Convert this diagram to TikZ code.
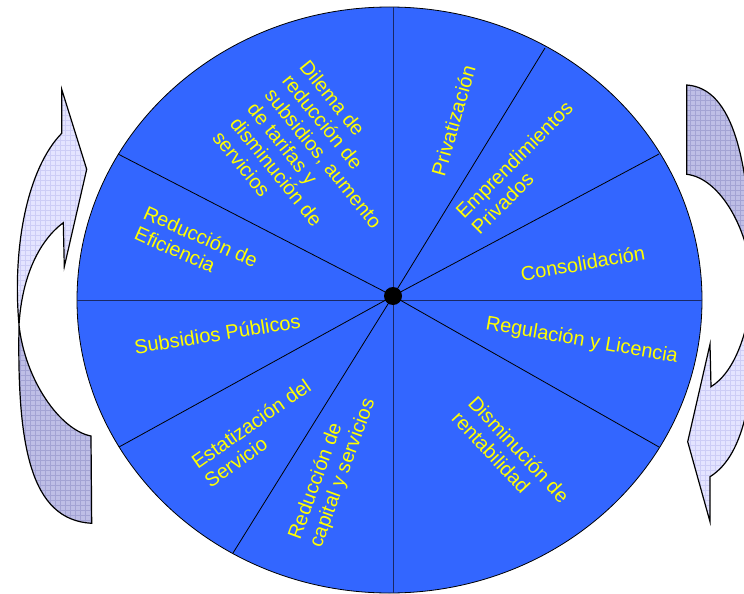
\documentclass[tikz,border=0pt]{standalone}
\usepackage{fontspec}
\setmainfont{Liberation Sans}
\usetikzlibrary{shapes.geometric}
\definecolor{wheelblue}{RGB}{51,102,255}
\definecolor{labelyellow}{RGB}{255,255,0}
\definecolor{axisblue}{RGB}{25,40,100}
\definecolor{lightlav}{RGB}{228,228,255}
\definecolor{lightgrid}{RGB}{205,205,246}
\definecolor{darklav}{RGB}{190,190,230}
\definecolor{darkgrid}{RGB}{163,163,212}
\begin{document}
\begin{tikzpicture}[x=1pt,y=-1pt,
  seglabel/.style={text=labelyellow, font=\fontsize{20}{22.4}\selectfont, inner sep=0pt},
  multilabel/.style={seglabel, align=left, anchor=base west},
  spoke/.style={draw=black, line width=0.8pt},
  axisline/.style={draw=axisblue, line width=1pt},
  arrowline/.style={draw=black, line width=1.2pt, line join=miter},
  gridfill/.style 2 args={fill=#1, path picture={
      \foreach \g in {0,5,...,780}{
        \draw[#2, line width=0.4pt] (\g,0) -- (\g,600);
        \draw[#2, line width=0.4pt] (0,\g) -- (780,\g);}}},
]
\useasboundingbox (0,0) rectangle (744,594);
\clip (0,0) rectangle (744,594);

% wheel
\node[ellipse, draw=black, line width=0.8pt, fill=wheelblue, inner sep=0pt,
      minimum width=625pt, minimum height=586pt] (wheel) at (389.5,300) {};

\coordinate (hubc) at (393,296);
\coordinate (top) at (393,7);
\coordinate (bottom) at (393,593);
\coordinate (left) at (77,300);
\coordinate (right) at (702,300);
\coordinate (r1) at (545,48);
\coordinate (r2) at (659,154);
\coordinate (r3) at (659,447);
\coordinate (r4) at (233,553);
\coordinate (r5) at (119,447);
\coordinate (r6) at (118,154);

\draw[axisline] (top) -- (bottom);
\draw[axisline] (left) -- (right);
\foreach \r in {r1,r2,r3,r4,r5,r6}{\draw[spoke] (hubc) -- (\r);}

\node[circle, fill=black, minimum size=18pt, inner sep=0pt] (hub) at (hubc) {};

% labels (multi-line nodes are anchored at the baseline of their last line)
\node[seglabel, rotate=74] (privat) at (453.3,120.7) {Privatización};
\node[multilabel, rotate=45] (empr) at (479.8,235.8) {Emprendimientos\\Privados};
\node[seglabel, rotate=10] (consol) at (582.7,263.3) {Consolidación};
\node[seglabel, rotate=-10] (regul) at (581.8,340.7) {Regulación y Licencia};
\node[multilabel, rotate=-47] (dismin) at (450.6,419.3) {Disminución de\\rentabilidad};
\node[multilabel, rotate=70] (redcap) at (321.1,548.7) {Reducción de\\capital y servicios};
\node[multilabel, rotate=35] (estat) at (210.5,488.3) {Estatización del\\Servicio};
\node[seglabel, rotate=9] (subs) at (217.3,333.7) {Subsidios Públicos};
\node[multilabel, rotate=-24] (redef) at (132.9,238.5) {Reducción de\\Eficiencia};
\node[multilabel, rotate=-51] (dilema) at (211.5,138) {Dilema de\\reducción de\\subsidios, aumento\\de tarifas y\\disminución de\\servicios};

% left curved arrow
\path[arrowline, gridfill={darklav}{darkgrid}]
  (19,325) .. controls (17,445) and (30,520) .. (91.7,523.3) -- (91,436)
  .. controls (60,430) and (25,380) .. cycle;
\path[arrowline, gridfill={lightlav}{lightgrid}]
  (19,325) .. controls (12,245) and (28,168) .. (61.7,133.3) -- (61.7,89.3)
  -- (86.7,169.3) -- (64.3,266.7) -- (63.3,222.7)
  .. controls (40,240) and (22,275) .. cycle;

% right curved arrow
\path[arrowline, gridfill={darklav}{darkgrid}]
  (686.7,85) .. controls (733,88) and (751,160) .. (752,284)
  .. controls (750,230) and (720,178) .. (686.7,174.3) -- cycle;
\path[arrowline, gridfill={lightlav}{lightgrid}]
  (752,284) .. controls (758,390) and (745,455) .. (710,476.7) -- (710,521.7)
  -- (687.7,441.7) -- (710,344.3) -- (711,386.7)
  .. controls (735,372) and (750,330) .. cycle;
\end{tikzpicture}
\end{document}
